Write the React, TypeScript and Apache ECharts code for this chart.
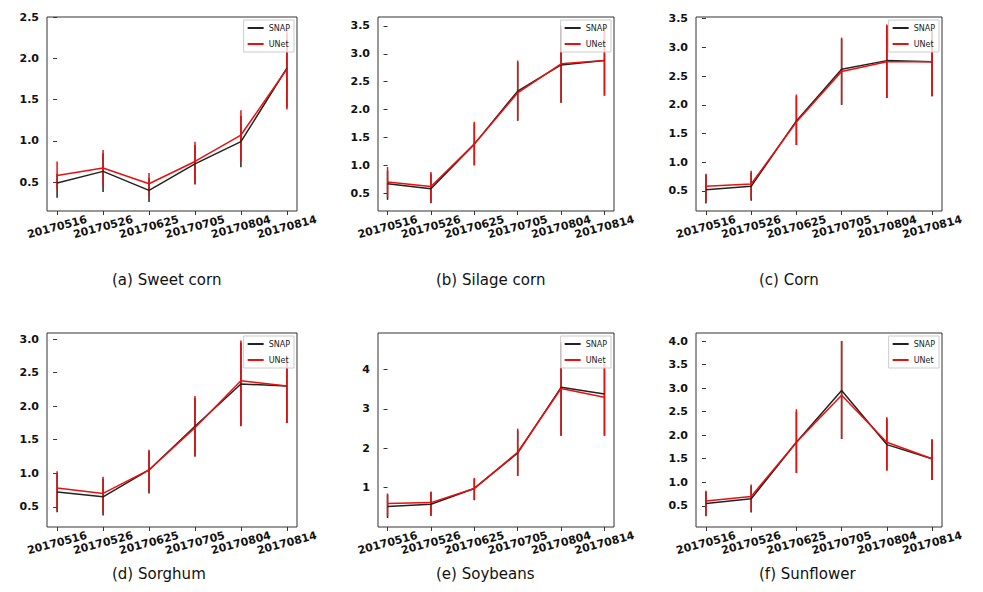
import React, { useEffect, useRef } from "react";
import * as echarts from "echarts";

const dates = ["20170516", "20170526", "20170625", "20170705", "20170804", "20170814"];
const titles = ["(a) Sweet corn", "(b) Silage corn", "(c) Corn", "(d) Sorghum", "(e) Soybeans", "(f) Sunflower"];
const snap = [
  [0.49, 0.63, 0.40, 0.72, 0.99, 1.88],
  [0.67, 0.58, 1.38, 2.33, 2.80, 2.88],
  [0.52, 0.58, 1.72, 2.62, 2.77, 2.75],
  [0.72, 0.65, 1.05, 1.70, 2.33, 2.30],
  [0.52, 0.58, 0.98, 1.88, 3.55, 3.38],
  [0.55, 0.65, 1.85, 2.95, 1.80, 1.50],
];
const unet = [
  [0.58, 0.67, 0.48, 0.75, 1.07, 1.87],
  [0.70, 0.62, 1.38, 2.30, 2.82, 2.88],
  [0.58, 0.62, 1.70, 2.58, 2.75, 2.75],
  [0.78, 0.70, 1.05, 1.68, 2.38, 2.30],
  [0.60, 0.62, 0.98, 1.90, 3.52, 3.30],
  [0.60, 0.70, 1.85, 2.85, 1.85, 1.50],
];
const snapErr = [
  [[0.31, 0.6], [0.38, 0.85], [0.26, 0.55], [0.47, 0.95], [0.68, 1.3], [1.4, 2.3]],
  [[0.38, 0.9], [0.32, 0.85], [1.0, 1.75], [1.8, 2.85], [2.12, 3.45], [2.25, 3.45]],
  [[0.28, 0.78], [0.33, 0.82], [1.3, 2.15], [2.0, 3.15], [2.12, 3.38], [2.15, 3.28]],
  [[0.42, 1.0], [0.37, 0.92], [0.7, 1.33], [1.25, 2.12], [1.7, 2.95], [1.75, 2.72]],
  [[0.23, 0.82], [0.28, 0.88], [0.68, 1.22], [1.3, 2.45], [2.32, 4.65], [2.32, 4.15]],
  [[0.28, 0.8], [0.36, 0.92], [1.2, 2.5], [1.92, 4.0], [1.25, 2.35], [1.05, 1.9]],
];
const unetErr = [
  [[0.41, 0.75], [0.45, 0.89], [0.33, 0.61], [0.48, 0.99], [0.75, 1.37], [1.38, 2.35]],
  [[0.42, 0.97], [0.35, 0.88], [1.0, 1.78], [1.8, 2.88], [2.12, 3.5], [2.25, 3.5]],
  [[0.32, 0.8], [0.36, 0.85], [1.3, 2.18], [2.0, 3.17], [2.12, 3.4], [2.15, 3.3]],
  [[0.45, 1.03], [0.4, 0.95], [0.72, 1.35], [1.25, 2.15], [1.72, 2.98], [1.75, 2.75]],
  [[0.27, 0.85], [0.31, 0.9], [0.7, 1.25], [1.3, 2.5], [2.32, 4.7], [2.32, 4.2]],
  [[0.3, 0.82], [0.38, 0.95], [1.2, 2.55], [1.92, 4.0], [1.25, 2.38], [1.05, 1.92]],
];
const yMin = [0.15, 0.18, 0.15, 0.2, 0.0, 0.05];
const yMax = [2.5, 3.66, 3.53, 3.09, 4.93, 4.17];
const yTicks = [
  [0.5, 1.0, 1.5, 2.0, 2.5],
  [0.5, 1.0, 1.5, 2.0, 2.5, 3.0, 3.5],
  [0.5, 1.0, 1.5, 2.0, 2.5, 3.0, 3.5],
  [0.5, 1.0, 1.5, 2.0, 2.5, 3.0],
  [1, 2, 3, 4],
  [0.5, 1.0, 1.5, 2.0, 2.5, 3.0, 3.5, 4.0],
];

const lefts = [47, 378, 696];
const rights = [297, 614, 942];
const tops = [17, 333];
const bottoms = [211, 527];

export default function App() {
  const ref = useRef<HTMLDivElement>(null);
  useEffect(() => {
    const chart = echarts.init(ref.current!, null, { renderer: "svg" });
    const grid: any[] = [], xAxis: any[] = [], yAxis: any[] = [], series: any[] = [], legend: any[] = [], graphic: any[] = [];
    for (let i = 0; i < 6; i++) {
      const c = i % 3, r = Math.floor(i / 3);
      const L = lefts[c], R = rights[c], T = tops[r], B = bottoms[r];
      grid.push({ left: L, top: T, width: R - L, height: B - T, show: true, borderColor: "#333", borderWidth: 1, backgroundColor: "transparent" });
      xAxis.push({
        type: "value", gridIndex: i, min: -0.22, max: 5.22,
        axisLine: { show: false }, splitLine: { show: false },
        axisTick: { show: true, inside: false, customValues: [0, 1, 2, 3, 4, 5], length: 4, lineStyle: { color: "#333" } },
        axisLabel: {
          customValues: [0, 1, 2, 3, 4, 5], rotate: 15, align: "center", verticalAlign: "middle",
          fontWeight: "bold", fontSize: 11, color: "#111", fontFamily: "DejaVu Sans", margin: 16,
          formatter: (v: number) => dates[Math.round(v)] ?? "",
        },
      });
      yAxis.push({
        type: "value", gridIndex: i, min: yMin[i], max: yMax[i],
        axisLine: { show: false }, splitLine: { show: false },
        axisTick: { show: true, customValues: yTicks[i], length: 4, lineStyle: { color: "#333" } },
        axisLabel: {
          customValues: yTicks[i], fontWeight: "bold", fontSize: 11, color: "#111", fontFamily: "DejaVu Sans",
          formatter: (v: number) => (i === 4 ? String(v) : v.toFixed(1)),
        },
      });
      const mkErr = (err: number[][], color: string) => ({
        type: "custom", xAxisIndex: i, yAxisIndex: i, silent: true,
        data: err.map((e, k) => [k, e[0], e[1]]),
        renderItem: (_p: any, api: any) => {
          const a = api.coord([api.value(0), api.value(1)]);
          const b = api.coord([api.value(0), api.value(2)]);
          return { type: "line", shape: { x1: a[0], y1: a[1], x2: b[0], y2: b[1] }, style: { stroke: color, lineWidth: 1.5 } };
        },
      });
      series.push(mkErr(snapErr[i], "#222"));
      series.push({
        type: "line", name: "SNAP", xAxisIndex: i, yAxisIndex: i, symbol: "none",
        data: snap[i].map((v, k) => [k, v]), lineStyle: { color: "#222", width: 1.5 }, itemStyle: { color: "#222" },
      });
      series.push(mkErr(unetErr[i], "#e8110f"));
      series.push({
        type: "line", name: "UNet", xAxisIndex: i, yAxisIndex: i, symbol: "none",
        data: unet[i].map((v, k) => [k, v]), lineStyle: { color: "#e8110f", width: 1.5 }, itemStyle: { color: "#e8110f" },
      });
      legend.push({
        data: [
          { name: "SNAP", icon: "rect", itemStyle: { color: "#222" } },
          { name: "UNet", icon: "rect", itemStyle: { color: "#e8110f" } },
        ],
        orient: "vertical", right: 983 - R + 3, top: T + 3, itemWidth: 16, itemHeight: 2, itemGap: 8,
        padding: [4, 4], borderColor: "#ccc", borderWidth: 1, backgroundColor: "rgba(255,255,255,0.8)",
        textStyle: { fontSize: 8, color: "#222", fontFamily: "DejaVu Sans" }, selectedMode: false,
      });
      graphic.push({
        type: "text", left: (L + R) / 2 - 60, top: r === 0 ? 272 : 566,
        style: { text: titles[i], fontSize: 15, fill: "#111", fontFamily: "DejaVu Sans", width: 120, align: "center" },
      });
    }
    chart.setOption({ animation: false, backgroundColor: "#fff", grid, xAxis, yAxis, series, legend, graphic });
    return () => chart.dispose();
  }, []);
  return <div ref={ref} style={{ width: 983, height: 592, position: "absolute", left: 0, top: 0 }} />;
}
